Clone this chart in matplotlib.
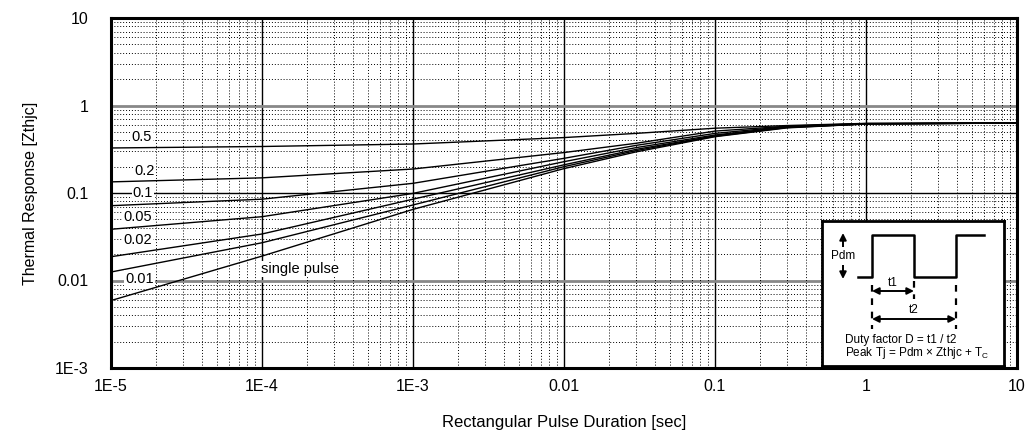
import matplotlib.pyplot as plt
import matplotlib.ticker as mticker

plt.rcParams['font.family'] = ['Liberation Sans', 'DejaVu Sans']

# pulse duration [sec]
t = [1e-5, 1e-4, 1e-3, 1e-2, 3e-2, 0.1, 0.3, 1, 10]

# thermal response per duty factor
z_05 = [0.327, 0.340, 0.363, 0.430, 0.480, 0.550, 0.590, 0.625, 0.630]
z_02 = [0.134, 0.149, 0.188, 0.290, 0.370, 0.510, 0.580, 0.622, 0.630]
z_01 = [0.0716, 0.085, 0.129, 0.249, 0.350, 0.480, 0.575, 0.620, 0.630]
z_005 = [0.0385, 0.0536, 0.099, 0.228, 0.330, 0.460, 0.570, 0.618, 0.630]
z_002 = [0.0187, 0.034, 0.085, 0.210, 0.315, 0.450, 0.565, 0.617, 0.630]
z_001 = [0.0125, 0.027, 0.073, 0.200, 0.305, 0.445, 0.560, 0.615, 0.630]
z_single = [0.0059, 0.019, 0.065, 0.190, 0.295, 0.440, 0.555, 0.615, 0.630]

curves = [z_05, z_02, z_01, z_005, z_002, z_001, z_single]

# curve labels and where they sit
labels = ['0.5', '0.2', '0.1', '0.05', '0.02', '0.01', 'single pulse']
label_x = [1.6e-5, 1.68e-5, 1.63e-5, 1.5e-5, 1.5e-5, 1.55e-5, 9.8e-5]
label_y = [0.436, 0.178, 0.1, 0.053, 0.029, 0.0105, 0.0135]

xticks = [1e-5, 1e-4, 1e-3, 1e-2, 0.1, 1, 10]
xtick_labels = ['1E-5', '1E-4', '1E-3', '0.01', '0.1', '1', '10']
yticks = [1e-3, 1e-2, 0.1, 1, 10]
ytick_labels = ['1E-3', '0.01', '0.1', '1', '10']

W, H = 1029, 438
fig = plt.figure(figsize=(W / 100, H / 100), dpi=100)
ax = fig.add_axes([111 / W, 1 - 368 / H, 906 / W, 350 / H])
ax.set_xscale('log')
ax.set_yscale('log')
ax.set_xlim(1e-5, 10)
ax.set_ylim(1e-3, 10)

# grid
ax.xaxis.set_minor_locator(mticker.LogLocator(base=10, subs=range(2, 10), numticks=20))
ax.yaxis.set_minor_locator(mticker.LogLocator(base=10, subs=range(2, 10), numticks=20))
ax.grid(True, which='minor', color='black', linestyle=(0, (1, 2)), linewidth=0.7)
for v in xticks:
    ax.axvline(v, color='black', linewidth=1.0, zorder=1)
for v in yticks:
    if v in (1, 1e-2):
        ax.axhline(v, color='#888888', linewidth=2.0, zorder=1)
    else:
        ax.axhline(v, color='black', linewidth=1.0, zorder=1)

for z in curves:
    ax.plot(t, z, color='black', linewidth=1.0, zorder=3)

for lab, lx, ly in zip(labels, label_x, label_y):
    ha = 'left' if lab == 'single pulse' else 'center'
    ax.text(lx, ly, lab, fontsize=10.5, ha=ha, va='center', zorder=4,
            bbox=dict(facecolor='white', edgecolor='none', pad=0.8))

ax.set_xticks(xticks)
ax.set_xticklabels(xtick_labels)
ax.set_yticks(yticks)
ax.set_yticklabels(ytick_labels)
ax.tick_params(which='both', length=0)
ax.tick_params(axis='x', pad=8, labelsize=11.5)
ax.tick_params(axis='y', pad=16, labelsize=11.5)
for s in ax.spines.values():
    s.set_linewidth(2.2)

ax.set_xlabel('Rectangular Pulse Duration [sec]', fontsize=12, labelpad=15)
ax.set_ylabel('Thermal Response [Zthjc]', fontsize=11.5, labelpad=12)

# inset explaining the pulse train (pixel-like local coordinates)
ins = fig.add_axes([822 / W, 1 - 366 / H, 182 / W, 145 / H])
ins.set_xlim(0, 182)
ins.set_ylim(145, 0)
ins.set_xticks([])
ins.set_yticks([])
ins.set_facecolor('white')
ins.set_zorder(5)
for s in ins.spines.values():
    s.set_linewidth(2.0)

arrow = dict(arrowstyle='<|-|>', color='black', lw=1.4,
             mutation_scale=10, shrinkA=0, shrinkB=0)
ins.plot([36, 50, 50, 92, 92, 134, 134, 162], [56, 56, 14, 14, 56, 56, 14, 14],
         color='black', linewidth=1.8)
ins.annotate('', xy=(21, 12), xytext=(21, 58), arrowprops=arrow)
ins.text(21, 35, 'Pdm', fontsize=8.5, ha='center', va='center',
         bbox=dict(facecolor='white', edgecolor='none', pad=2))
ins.annotate('', xy=(50, 70), xytext=(92, 70), arrowprops=arrow)
ins.text(71, 62, 't1', fontsize=8.5, ha='center', va='center')
ins.annotate('', xy=(50, 98), xytext=(134, 98), arrowprops=arrow)
ins.text(92, 89, 't2', fontsize=8.5, ha='center', va='center')
for xv, y0, y1 in [(50, 64, 108), (134, 64, 108), (92, 60, 78)]:
    ins.plot([xv, xv], [y0, y1], color='black', linewidth=1.6, linestyle=(0, (3, 3)))
ins.text(23, 119, 'Duty factor D = t1 / t2', fontsize=8.5, ha='left', va='center')
ins.text(23, 132, 'Peak Tj = Pdm \u00d7 Zthjc + T$_\\mathregular{C}$', fontsize=8.5,
         ha='left', va='center')

fig.savefig('out.png', dpi=100)
